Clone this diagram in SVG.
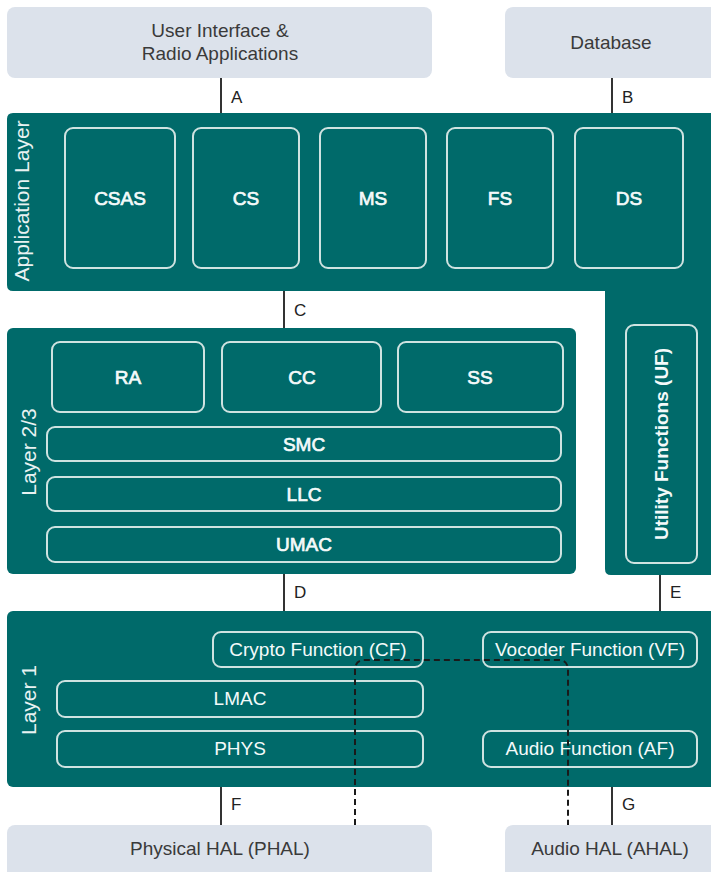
<svg xmlns="http://www.w3.org/2000/svg" width="711" height="872" viewBox="0 0 711 872">
<style>
.ext{fill:#dce2eb}
.ext-t{font-family:"Liberation Sans",Arial,sans-serif;font-size:19px;fill:#3a3a3a;text-anchor:middle}
.layer{fill:#006a6a}
.box{fill:none;stroke:#cfe3e1;stroke-width:2}
.bt{font-family:"Liberation Sans",Arial,sans-serif;font-size:19px;fill:#f4fafa;text-anchor:middle}
.b{stroke:#f4fafa;stroke-width:0.7}
.uf{font-weight:bold}
.lt{font-family:"Liberation Sans",Arial,sans-serif;font-size:21px;fill:#e8f2f2;text-anchor:middle}
.conn{stroke:#333;stroke-width:2;fill:none}
.cl{font-family:"Liberation Sans",Arial,sans-serif;font-size:17px;fill:#222}
.dash{stroke:#1a1a1a;stroke-width:2;fill:none;stroke-dasharray:6 4}
</style>
<rect width="711" height="872" fill="#ffffff"/>

<g id="ui">
<rect class="ext" x="7" y="7" width="425" height="71" rx="8"/>
<text class="ext-t" x="220" y="37">User Interface &amp;</text>
<text class="ext-t" x="220" y="60">Radio Applications</text>
</g>
<g id="database">
<rect class="ext" x="505" y="7" width="216" height="71" rx="8"/>
<text class="ext-t" x="611" y="49">Database</text>
</g>

<g id="connectors">
<line class="conn" x1="221" y1="78" x2="221" y2="114"/>
<text class="cl" x="231" y="103">A</text>
<line class="conn" x1="612" y1="78" x2="612" y2="114"/>
<text class="cl" x="622" y="103">B</text>
<line class="conn" x1="284" y1="291" x2="284" y2="328"/>
<text class="cl" x="294" y="316">C</text>
<line class="conn" x1="284" y1="574" x2="284" y2="611"/>
<text class="cl" x="294" y="598">D</text>
<line class="conn" x1="660" y1="575" x2="660" y2="611"/>
<text class="cl" x="670" y="598">E</text>
<line class="conn" x1="221" y1="787" x2="221" y2="825"/>
<text class="cl" x="231" y="810">F</text>
<line class="conn" x1="612" y1="787" x2="612" y2="825"/>
<text class="cl" x="622" y="810">G</text>
</g>

<g id="application-layer">
<path class="layer" d="M13,113 H711 V575 H611 Q605,575 605,569 V291 H13 Q7,291 7,285 V119 Q7,113 13,113 Z"/>
<text class="lt" transform="translate(29,201) rotate(-90)">Application Layer</text>
</g>
<g id="csas"><rect class="box" x="65" y="128" width="110" height="140" rx="8"/><text class="bt b" x="120" y="205">CSAS</text></g>
<g id="cs"><rect class="box" x="193" y="128" width="106" height="140" rx="8"/><text class="bt b" x="246" y="205">CS</text></g>
<g id="ms"><rect class="box" x="320" y="128" width="106" height="140" rx="8"/><text class="bt b" x="373" y="205">MS</text></g>
<g id="fs"><rect class="box" x="447" y="128" width="106" height="140" rx="8"/><text class="bt b" x="500" y="205">FS</text></g>
<g id="ds"><rect class="box" x="575" y="128" width="108" height="140" rx="8"/><text class="bt b" x="629" y="205">DS</text></g>

<g id="utility-functions">
<rect class="box" x="626" y="325" width="71" height="238" rx="8"/>
<text class="bt uf" transform="translate(668,444) rotate(-90)">Utility Functions (UF)</text>
</g>

<g id="layer23">
<rect class="layer" x="7" y="328" width="569" height="246" rx="6"/>
<text class="lt" transform="translate(36,452) rotate(-90)">Layer 2/3</text>
</g>
<g id="ra"><rect class="box" x="52" y="342" width="152" height="70" rx="8"/><text class="bt b" x="128" y="384">RA</text></g>
<g id="cc"><rect class="box" x="222" y="342" width="159" height="70" rx="8"/><text class="bt b" x="302" y="384">CC</text></g>
<g id="ss"><rect class="box" x="398" y="342" width="165" height="70" rx="8"/><text class="bt b" x="480" y="384">SS</text></g>
<g id="smc"><rect class="box" x="47" y="427" width="514" height="34" rx="8"/><text class="bt b" x="304" y="451">SMC</text></g>
<g id="llc"><rect class="box" x="47" y="477" width="514" height="34" rx="8"/><text class="bt b" x="304" y="501">LLC</text></g>
<g id="umac"><rect class="box" x="47" y="527" width="514" height="35" rx="8"/><text class="bt b" x="304" y="551">UMAC</text></g>

<g id="layer1">
<rect class="layer" x="7" y="611" width="714" height="176" rx="6"/>
<text class="lt" transform="translate(36,700) rotate(-90)">Layer 1</text>
</g>
<g id="cf"><rect class="box" x="213" y="632" width="210" height="35" rx="8"/><text class="bt" x="318" y="656">Crypto Function (CF)</text></g>
<g id="vf"><rect class="box" x="483" y="632" width="214" height="35" rx="8"/><text class="bt" x="590" y="656">Vocoder Function (VF)</text></g>
<g id="lmac"><rect class="box" x="57" y="681" width="366" height="36" rx="8"/><text class="bt" x="240" y="705">LMAC</text></g>
<g id="phys"><rect class="box" x="57" y="731" width="366" height="36" rx="8"/><text class="bt" x="240" y="755">PHYS</text></g>
<g id="af"><rect class="box" x="483" y="731" width="214" height="36" rx="8"/><text class="bt" x="590" y="755">Audio Function (AF)</text></g>

<g id="dashed-path">
<path class="dash" d="M355,825 V670 Q355,660 365,660 H558 Q568,660 568,670 V825"/>
</g>

<g id="phal">
<rect class="ext" x="7" y="825" width="425" height="60" rx="8"/>
<text class="ext-t" x="220" y="855">Physical HAL (PHAL)</text>
</g>
<g id="ahal">
<rect class="ext" x="505" y="825" width="216" height="60" rx="8"/>
<text class="ext-t" x="610" y="855">Audio HAL (AHAL)</text>
</g>
</svg>
